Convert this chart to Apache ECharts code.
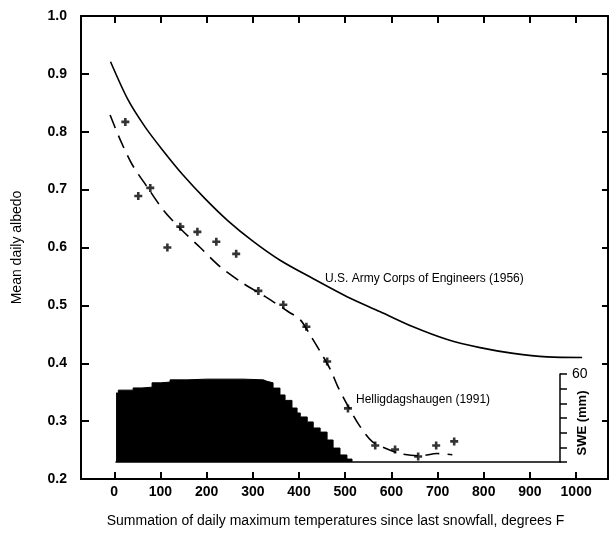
<!doctype html>
<html>
<head>
<meta charset="UTF-8"/>
<title>Mean daily albedo</title>
<script src="https://cdn.jsdelivr.net/npm/echarts@6/dist/echarts.min.js"></script>
<style>
html,body{margin:0;padding:0;background:#fff;}
#chart{width:610px;height:540px;}
</style>
</head>
<body>
<div id="chart"></div>
<script>
// x tick values
var xTicks = [0, 100, 200, 300, 400, 500, 600, 700, 800, 900, 1000];

// U.S. Army Corps of Engineers (1956) curve
var armyX = [-8, 30, 67, 104, 147, 197, 245, 300, 359, 431, 504, 576, 647, 721, 792, 864, 937, 1013];
var armyY = [0.921, 0.855, 0.808, 0.769, 0.727, 0.684, 0.647, 0.611, 0.578, 0.546, 0.515, 0.489, 0.463, 0.441, 0.427, 0.417, 0.411, 0.410];

// Helligdagshaugen (1991) fitted curve
var hellX = [-9, 13, 39, 71, 106, 145, 186, 229, 277, 327, 377, 403, 424, 446, 468, 485, 509, 532, 558, 587, 619, 662, 699, 732];
var hellY = [0.829, 0.786, 0.743, 0.705, 0.665, 0.631, 0.600, 0.567, 0.539, 0.515, 0.489, 0.475, 0.449, 0.420, 0.389, 0.358, 0.322, 0.291, 0.265, 0.253, 0.244, 0.240, 0.244, 0.242];

// observed daily albedo
var obsX = [24, 52, 78, 115, 143, 180, 221, 264, 312, 366, 416, 461, 506, 565, 608, 658, 697, 736];
var obsY = [0.817, 0.689, 0.703, 0.600, 0.636, 0.627, 0.610, 0.589, 0.525, 0.501, 0.463, 0.403, 0.322, 0.258, 0.251, 0.239, 0.258, 0.265];

// snow water equivalent (mm)
var sweX = [4, 9, 41, 60, 82, 100, 121, 158, 200, 240, 280, 323, 331, 344, 359, 370, 385, 396, 403, 418, 431, 446, 461, 474, 489, 504, 515];
var sweV = [47, 49, 50.5, 51, 54, 54.5, 56, 56.5, 56.5, 56.5, 56, 55, 54, 50.4, 45.7, 42, 36.8, 33.4, 30.7, 27.3, 23.2, 20.4, 15, 9.5, 4.8, 2, 0];

function pairs(xs, ys) {
  return xs.map(function (x, i) { return [x, ys[i]]; });
}

var font = '"Liberation Sans", Arial, Helvetica, sans-serif';
var plus = 'path://M-1.3,-4 h2.6 v2.7 h2.7 v2.6 h-2.7 v2.7 h-2.6 v-2.7 h-2.7 v-2.6 h2.7 z';

var myChart = echarts.init(document.getElementById('chart'));

var option = {
  animation: false,
  backgroundColor: '#fff',
  textStyle: { fontFamily: font, color: '#000' },
  grid: [
    { left: 81, right: 2, top: 16, bottom: 61, outerBoundsMode: 'none' },
    { left: 116, right: 50, top: 374, height: 88, outerBoundsMode: 'none' }
  ],
  xAxis: [
    {
      type: 'value', gridIndex: 0, position: 'bottom', min: -72, max: 1069,
      axisLine: { onZero: false, lineStyle: { color: '#000', width: 2 } },
      axisTick: { inside: true, length: 7, customValues: xTicks, lineStyle: { color: '#000', width: 2 } },
      axisLabel: {
        customValues: xTicks, color: '#000', fontSize: 14, fontWeight: 'bold', margin: 6, fontFamily: font,
        formatter: function (v) { return String(v); }
      },
      splitLine: { show: false },
      name: 'Summation of daily maximum temperatures since last snowfall, degrees F',
      nameLocation: 'middle', nameGap: 35, nameMoveOverlap: false,
      nameTextStyle: { color: '#000', fontSize: 14, fontFamily: font, padding: [0, 18, 0, 0] }
    },
    {
      type: 'value', gridIndex: 0, position: 'top', min: -72, max: 1069,
      axisLine: { onZero: false, lineStyle: { color: '#000', width: 2 } },
      axisTick: { inside: true, length: 7, customValues: xTicks, lineStyle: { color: '#000', width: 2 } },
      axisLabel: { show: false },
      splitLine: { show: false }
    },
    {
      type: 'value', gridIndex: 1, min: 3.9, max: 965.4,
      axisLine: { onZero: false, lineStyle: { color: '#000', width: 1.5 } },
      axisTick: { show: false },
      axisLabel: { show: false },
      splitLine: { show: false }
    }
  ],
  yAxis: [
    {
      type: 'value', gridIndex: 0, position: 'left', min: 0.2, max: 1.0, interval: 0.1,
      axisLine: { onZero: false, lineStyle: { color: '#000', width: 2 } },
      axisTick: { inside: true, length: 8, lineStyle: { color: '#000', width: 2 } },
      axisLabel: {
        color: '#000', fontSize: 14, fontWeight: 'bold', margin: 14, fontFamily: font,
        formatter: function (v) { return v.toFixed(1); }
      },
      splitLine: { show: false },
      name: 'Mean daily albedo', nameLocation: 'middle', nameGap: 57, nameMoveOverlap: false,
      nameTextStyle: { color: '#000', fontSize: 14, fontFamily: font }
    },
    {
      type: 'value', gridIndex: 0, position: 'right', min: 0.2, max: 1.0, interval: 0.1,
      axisLine: { onZero: false, lineStyle: { color: '#000', width: 2 } },
      axisTick: { inside: true, length: 6, lineStyle: { color: '#000', width: 2 } },
      axisLabel: { show: false },
      splitLine: { show: false }
    },
    {
      type: 'value', gridIndex: 1, position: 'right', min: 0, max: 60, interval: 10,
      axisLine: { show: true, onZero: false, lineStyle: { color: '#000', width: 1.5 } },
      axisTick: { show: true, inside: false, length: 7, lineStyle: { color: '#000', width: 1.5 } },
      axisLabel: { customValues: [60], color: '#000', fontSize: 14, margin: 12, fontFamily: font },
      splitLine: { show: false },
      name: 'SWE (mm)', nameLocation: 'middle', nameGap: 16, nameRotate: 90, nameMoveOverlap: false,
      nameTextStyle: { color: '#000', fontSize: 13, fontWeight: 'bold', fontFamily: font, padding: [0, 10, 0, 0] }
    }
  ],
  graphic: [
    { type: 'text', left: 325, top: 273, style: { text: 'U.S. Army Corps of Engineers (1956)', font: '12px ' + font, fill: '#000' } },
    { type: 'text', left: 356, top: 394, style: { text: 'Helligdagshaugen (1991)', font: '12px ' + font, fill: '#000' } }
  ],
  series: [
    {
      name: 'SWE', type: 'line', xAxisIndex: 2, yAxisIndex: 2,
      data: pairs(sweX, sweV), step: 'end', symbol: 'none',
      lineStyle: { color: '#000', width: 1 },
      areaStyle: { color: '#000', opacity: 1 },
      z: 1
    },
    {
      name: 'U.S. Army Corps of Engineers (1956)', type: 'line', xAxisIndex: 0, yAxisIndex: 0,
      data: pairs(armyX, armyY), smooth: 0.3, symbol: 'none',
      lineStyle: { color: '#000', width: 1.6 }
    },
    {
      name: 'Helligdagshaugen (1991)', type: 'line', xAxisIndex: 0, yAxisIndex: 0,
      data: pairs(hellX, hellY), smooth: 0.3, symbol: 'none',
      lineStyle: { color: '#000', width: 1.6, type: [14, 8] }
    },
    {
      name: 'Observed', type: 'scatter', xAxisIndex: 0, yAxisIndex: 0,
      data: pairs(obsX, obsY), symbol: plus, symbolSize: 8,
      itemStyle: { color: '#000' }
    }
  ]
};

myChart.setOption(option);
</script>
</body>
</html>
